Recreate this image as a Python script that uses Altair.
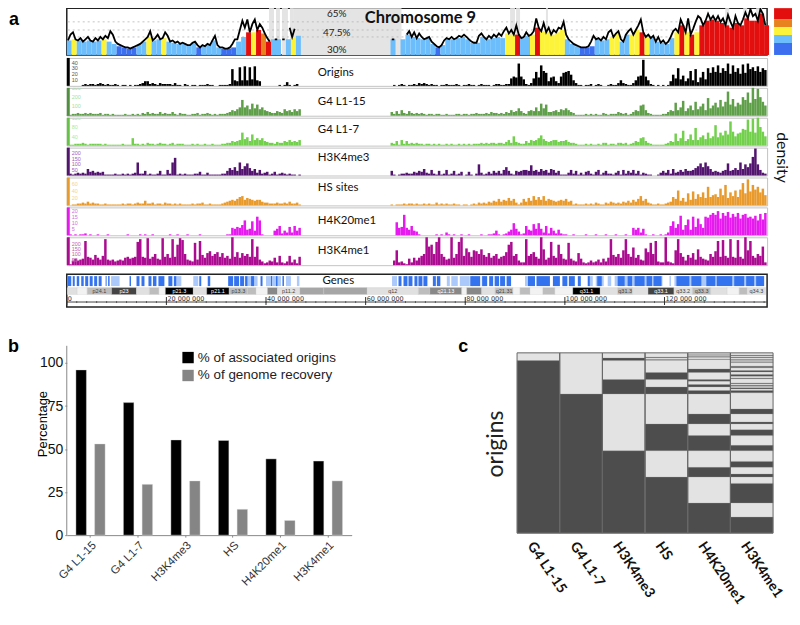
import altair as alt
import pandas as pd

# ---------- panel a: chromosome position in Mb, tracks in half-Mb bins ----------
gc_left = [41,45,39,38,41,40,41,46,38,36,34,33,33,34,36,39,46,41,40,46,39,38,37,37,35,38,33,36,35,41,36,33,32,33,38,42,52,46,55,50,53,41,40,None,40,46,43]
gc_right = [40,None,40,44,43,44,41,42,38,34,39,40,41,42,43,42,38,37,43,42,41,42,41,45,48,52,42,44,45,56,48,46,45,47,48,43,38,36,34,33,34,41,39,40,46,45,39,44,47,48,55,45,41,42,38,37,41,48,56,46,58,46,53,58,57,56,54,59,52,57,53,61,56,65,66,54]
gc_fine_left = [39,44,46,40,39,41,38,40,42,39,38,41,39,42,40,43,41,47,44,38,
                36,35,34,33,33,32,33,34,35,36,38,40,42,47,39,41,44,40,41,46,
                43,38,39,37,38,36,37,36,35,35,37,38,35,33,35,34,36,35,39,43,
                35,33,33,32,32,33,36,40,40,48,56,50,57,46,53,57,48,53,50,45,
                41,38,None,40,40,None,40,40,None,50,42,49,None,None]
gc_fine_right = [40,40,None,None,None,None,44,47,42,46,
                 41,45,42,40,41,42,38,36,34,33,35,39,41,40,42,40,41,43,42,44,
                 42,40,38,37,37,43,45,42,40,43,41,44,42,45,43,47,50,45,48,44,
                 52,44,41,42,46,43,44,47,58,50,47,54,46,50,44,48,46,50,49,55,
                 44,40,38,36,35,34,33,33,33,34,38,43,40,41,39,42,40,46,48,42,
                 45,47,40,38,44,47,49,44,48,52,57,46,42,44,41,43,38,42,37,39,
                 36,38,42,47,49,46,57,52,46,58,44,49,55,60,58,52,56,62,57,60,
                 56,60,55,58,52,61,55,50,60,54,52,57,63,58,66,60,62,56,66,62,52]
gc_classes = [35, 44.5, 49, 52]
gc_colors = ["#3c6ff0", "#6cbdfb", "#fdf43a", "#e8821e", "#e30f0f"]
gc_grid = [42, 48, 55]
gc_labels = ["65%", "47.5%", "30%"]
gc_label_pos = [61.5, 45, 31]
gap_starts = [40.6,42,43.2,44.8,45.6,89,90.2,96.2,132.2,135.8,138.4]
gap_ends = [41.6,42.8,44.4,45.6,67.2,90,91,96.6,133,136.6,139.6]

tracks = [
 dict(name="Origins", color="#000000", dark="#000000", tick="#555555", unit=1.6, ticks=[40,30,20,10], label_y=15,
  left=[0,0,0,0,0,0,1,2,1,2,2,1,2,3,2,1,2,1,1,2,
        1,0,1,1,0,1,0,1,1,2,3,5,5,2,3,2,1,3,2,2,
        2,2,1,3,1,1,0,2,1,0,1,1,0,1,1,1,2,1,1,0,
        0,1,1,1,1,2,18,6,5,20,6,21,6,20,7,21,6,5,0,0,
        0,0,0,0,0,1,0,1,4,1,0,1,2,0],
  right=[0,1,0,1,2,1,0,1,1,2,
         1,3,2,3,2,1,2,1,1,0,1,1,2,1,1,1,2,1,0,1,
         1,2,1,1,0,1,2,1,1,1,0,1,2,2,1,1,2,2,8,10,
         9,24,10,7,2,1,3,8,15,9,22,16,14,5,9,10,5,3,10,14,
         15,16,12,6,3,1,1,0,1,1,2,0,1,2,1,0,0,1,2,1,
         1,3,6,3,2,1,1,3,6,10,11,28,10,6,2,1,0,1,0,1,
         0,1,5,12,8,19,7,11,5,8,16,6,18,4,9,15,7,19,14,20,
         15,22,14,19,16,24,13,22,15,19,13,23,14,24,18,20,16,21,15,19,17]),
 dict(name="G4 L1-15", color="#5f9f4a", dark="#4f8f3e", tick="#9fe39f", unit=10, ticks=[300,200,100], label_y=14,
  left=[1,1,2,2,3,2,2,3,2,3,2,2,2,3,1,2,2,1,2,1,
        1,1,1,2,1,1,2,1,2,1,3,2,4,2,3,2,2,4,2,3,
        2,2,4,2,1,3,2,2,1,1,2,2,3,1,2,2,3,2,1,2,
        1,2,2,2,3,4,6,5,7,9,17,9,11,7,13,8,12,7,9,6,
        5,4,3,3,5,4,3,7,5,6,4,7,5,7],
  right=[4,2,5,2,6,3,2,5,3,2,
         3,2,3,2,1,2,2,1,2,2,1,1,2,1,1,1,2,2,1,2,
         2,1,2,2,3,2,2,2,3,2,4,3,3,2,3,2,4,3,6,4,
         5,8,5,3,2,5,6,5,9,5,13,8,12,4,4,5,6,4,7,6,
         8,6,4,3,1,1,1,1,2,1,2,1,2,1,1,3,2,1,2,2,
         2,4,3,2,3,1,2,4,6,5,11,12,6,3,2,1,1,1,1,2,
         2,4,6,5,14,6,9,16,5,8,11,6,15,7,10,13,6,19,8,11,
         14,9,17,10,15,26,12,18,10,14,12,20,17,25,14,30,18,29,20,15,11]),
 dict(name="G4 L1-7", color="#72d04d", dark="#66c244", tick="#a8eba0", unit=4.1, ticks=[120,80,40], label_y=12,
  left=[0,1,1,2,2,2,3,2,1,2,2,2,2,2,1,2,1,1,1,1,
        1,1,2,1,1,1,8,2,2,1,2,1,3,2,2,1,2,3,2,2,
        1,2,3,1,2,2,2,1,1,1,2,1,2,1,1,2,1,1,2,1,
        1,1,2,2,3,3,5,4,5,6,14,7,9,5,12,6,8,6,8,5,
        4,3,3,2,4,3,3,5,4,6,4,5,4,6],
  right=[3,2,5,1,6,2,5,2,3,2,
         3,2,2,1,2,2,1,2,1,2,1,1,2,1,2,1,1,2,1,2,
         1,2,1,2,2,2,3,2,3,2,3,3,2,3,3,2,4,6,3,10,
         4,3,2,2,5,3,6,5,6,8,11,7,5,4,5,6,6,4,5,5,
         6,4,3,3,2,1,1,1,2,1,2,1,1,2,1,3,3,1,2,2,
         1,3,3,2,3,1,2,3,5,4,8,9,5,3,2,1,1,1,1,1,
         2,3,5,4,13,5,8,16,5,7,12,6,19,6,9,11,7,14,8,10,
         22,9,14,11,16,12,26,15,10,13,14,18,17,28,15,29,14,30,20,15,10]),
 dict(name="H3K4me3", color="#52146e", dark="#52146e", tick="#a060c0", unit=8.3, ticks=[200,150,100,50], label_y=10,
  left=[0,2,1,2,3,2,3,2,7,4,5,3,4,3,4,1,1,1,1,2,
        1,1,2,1,2,1,2,3,14,2,2,5,1,2,1,1,2,5,1,1,
        6,2,14,19,1,2,1,2,1,1,1,2,2,4,1,1,3,1,1,1,
        1,1,2,2,5,8,6,9,5,14,7,10,13,8,5,7,3,6,2,3,
        4,1,2,4,1,2,3,2,1,2,1,1,0,1],
  right=[5,1,0,1,2,2,3,2,2,4,
         3,5,4,7,3,2,6,2,1,5,1,2,6,1,2,5,1,2,4,0,
         1,4,1,0,2,12,3,1,2,4,2,5,3,5,2,6,9,5,2,1,
         5,4,5,6,6,5,11,5,6,4,7,5,6,3,7,6,3,5,1,1,
         1,3,6,2,5,1,3,1,4,5,2,1,4,6,1,3,5,2,2,1,
         3,5,1,6,2,5,3,6,2,5,1,3,2,1,1,0,0,1,3,5,
         3,6,2,7,3,4,6,4,7,5,5,6,8,10,13,9,14,10,7,4,
         5,4,3,5,6,13,5,6,8,6,14,7,12,9,13,20,29,12,6,3,2]),
 dict(name="HS sites", color="#e99a2c", dark="#e99a2c", tick="#f5d58a", unit=2.6, ticks=[60,40,20], label_y=11,
  left=[0,0,1,1,2,2,3,2,4,2,3,2,2,1,1,2,1,1,1,1,
        1,1,2,1,2,2,1,2,3,2,2,5,2,2,3,1,2,2,1,3,
        2,2,1,2,1,2,1,1,1,1,2,1,2,2,3,1,1,2,1,1,
        1,1,2,3,4,5,6,5,7,9,10,6,8,7,6,5,6,6,4,3,
        3,2,2,2,3,2,2,3,2,4,2,2,3,1],
  right=[1,0,1,1,1,2,1,2,2,1,
         2,1,1,2,1,2,1,1,3,1,2,1,2,1,1,2,1,1,0,1,
         1,0,1,2,1,3,2,3,2,4,3,5,4,7,4,6,5,8,5,7,
         3,1,3,7,4,8,5,10,6,9,6,10,5,7,6,5,4,5,6,5,
         7,4,5,1,2,1,1,1,2,1,2,1,3,2,1,1,3,2,4,3,
         2,3,2,4,3,5,3,6,4,7,10,5,7,3,2,1,1,2,1,1,
         2,3,4,9,7,16,5,8,4,13,6,15,7,12,9,14,8,20,9,11,
         12,9,18,11,22,8,14,10,16,9,17,24,13,28,15,22,17,20,14,18,11]),
 dict(name="H4K20me1", color="#e619ee", dark="#e619ee", tick="#d070e0", unit=0.77, ticks=[20,15,10,5], label_y=14,
  left=[0,1,0,1,0,1,1,2,0,1,0,0,1,0,0,0,1,0,0,0,
        0,0,0,0,1,0,0,0,0,1,0,1,0,0,1,0,0,0,0,0,
        0,1,0,0,1,0,0,0,1,0,0,0,0,1,0,0,0,0,0,0,
        0,0,0,0,1,1,8,7,9,8,11,16,6,7,15,5,20,16,1,0,
        0,0,0,5,7,10,2,5,3,9,3,10,5,8],
  right=[0,0,14,8,9,22,8,6,10,5,
         4,1,0,0,0,0,0,0,1,0,1,0,3,1,0,1,0,0,1,0,
         0,1,0,0,0,0,1,0,0,1,1,2,5,1,0,1,2,4,6,13,
         7,4,1,2,10,6,5,12,7,13,7,3,10,2,8,5,2,6,2,1,
         1,0,0,1,0,0,0,0,1,0,0,0,1,0,0,0,1,0,0,0,
         1,0,0,0,1,0,0,8,6,8,3,7,1,0,0,1,0,0,1,0,
         1,3,10,15,8,12,21,6,11,17,6,20,9,18,12,8,20,19,22,24,
         22,26,18,24,21,25,19,23,20,24,18,22,23,19,20,18,21,16,23,17,24]),
 dict(name="H3K4me1", color="#ab0b90", dark="#ab0b90", tick="#c060b0", unit=8.6, ticks=[200,150,100,50], label_y=14,
  left=[0,1,5,7,5,6,7,26,9,8,6,11,8,6,10,28,6,5,6,4,
        5,6,5,8,9,7,8,9,25,28,9,8,29,7,9,12,7,6,29,9,
        12,8,28,9,22,29,27,12,6,5,4,24,6,26,11,8,13,15,10,12,
        14,9,13,8,10,7,30,9,14,8,13,10,12,9,28,9,20,6,4,2,
        3,5,4,8,3,10,3,2,4,10,3,6,2,9],
  right=[0,5,16,3,4,2,1,7,3,8,
         5,8,10,12,30,20,22,12,25,30,12,9,6,7,30,8,12,25,30,10,
         18,14,9,16,15,12,17,11,9,13,8,10,12,7,9,10,14,22,25,10,
         12,5,3,3,28,10,12,14,9,7,30,17,6,8,25,10,8,22,12,7,
         6,24,7,5,4,13,7,3,2,3,5,3,4,6,3,7,4,8,28,11,
         9,12,8,16,28,12,9,19,8,11,6,5,18,14,24,12,26,4,3,3,
         30,4,3,2,16,28,13,9,5,11,8,13,6,17,9,7,6,5,12,9,
         15,26,9,27,10,8,28,9,8,27,9,7,30,16,26,10,8,12,10,20,3]),
]

gene_light = [(8.9,10.6),(22,23),(25.4,26.4),(36.3,38.3),(40,43),(44,45),(46.2,46.7),(65.3,66.3),(76.3,76.9),(77.2,78.5),(78.9,80.9),(81.3,81.6),(83.3,84),(92,92.6),(104.6,105.6),(106.2,107.8),(108.6,109.3),(110,119.6),(121,121.3),(122,140)]
gene_dark = [(0.2,0.9),(1.2,1.6),(2,2.5),(2.9,3.4),(3.7,4.3),(4.6,5.2),(5.5,6.1),(6.4,7),(7.8,8),(8.3,8.6),(12.6,12.9),(14,14.6),(15,15.6),(16.4,17),(17.3,18),(18.4,19.6),(20.4,21.2),(21.5,22),(26.6,27),(28.3,28.8),(32.4,33.4),(33.6,34.6),(34.8,35.6),(35.8,36.3),(37,37.6),(38.9,39.3),(41,41.2),(42,42.3),(43.3,43.6),
             (66.6,67.2),(67.6,68.4),(68.6,69.4),(69.8,70.4),(70.6,71.4),(71.6,72.4),(73.5,74.1),(74.3,75),(81,83),(83.4,84.4),(84.8,85.6),(85.9,86.8),(87,88),(88.3,89.2),(92.6,94),(94.3,97),(97.6,99),(99.5,100.5),(100.8,102),(102.6,103.2),(104.6,105),(106.5,107.4),(110.6,112),(112.6,113.5),(114,116),(116.4,117.5),(117.8,119.4),(122.4,125),(125.4,127.4),(128.4,130.2),(130.5,133.6),(134,136),(136.4,138),(138.4,140)]

band_edges = [0.1,2.1,4.1,9,14,16.6,18.5,19.8,25.4,28.1,32.6,36.3,38,40.3,42.3,46.8,51.6,60.3,70.6,72.9,79.3,80.3,83.3,86,89.6,91,93,95.6,98,101.6,107.1,110.6,113.6,116.7,121.9,125.6,129.3,132.6,135,136.6,140.3]
band_stain = [25,0,50,90,25,50,0,100,25,100,50,50,0,75,25,60,60,25,50,75,0,75,25,50,0,50,0,50,0,100,25,50,25,90,25,50,25,0,50,25]
band_names = ["","","p24.1","p23","","","","p21.3","","p21.1","p13.3","","","","p11.2","","","q12","","q21.13","","","","q21.31","","","","","","q31.1","","q31.3","","q33.1","q33.2","q33.3","","","","q34.3"]
ruler_major = [0,20,40,60,80,100,120]
ruler_labels = ["0","20 000 000","40 000 000","60 000 000","80 000 000","100 000 000","120 000 000"]
ruler_minor = [m for m in range(0,141,2)]

# ---------- panel b ----------
marks_b = ["G4 L1-15","G4 L1-7","H3K4me3","HS","H4K20me1","H3K4me1"]
origins_pct = [96,77,55.3,55,44.3,43]
genome_pct = [53,29.5,31.5,15,8.5,31.5]
series_b = ["% of associated origins","% of genome recovery"]

# ---------- panel c: dark ranges, percent of origins from the top ----------
marks_c = ["G4  L1-15","G4 L1-7","H3K4me3","HS","H4K20me1","H3K4me1"]
dark_c = [
 [(4.3,100)],
 [(22.8,100)],
 [(2.8,4.3),(14.8,22.8),(54.3,100)],
 [(2.4,2.8),(3.7,4.1),(10.9,14.8),(18.9,22.8),(39.4,54.3),(68.9,100)],
 [(1.0,1.3),(2.0,2.4),(3.4,3.7),(8.9,10.9),(14.8,15.7),(17.6,18.9),(20.9,22.8),(33.9,39.4),(45.9,54.3),(63.5,68.9),(83.3,100)],
 [(1.3,1.7),(2.4,2.8),(3.7,4.1),(5,5.4),(7.4,8.3),(9.8,10.6),(12,13),(13.9,14.4),(16.7,17.2),(18,18.5),(19.4,20),(20.9,22.2),(31.1,33.9),(38.3,39.4),(42.6,45.9),(51.3,54.3),(60.2,63.5),(67.2,68.9),(72.4,83.3),(91.1,100)],
]

PLOT_W = 703
TRACK_H = 28
xs = alt.Scale(domain=[0,140.6], nice=False, zero=False)
FONT = "Lato"
one = pd.DataFrame({"k":[0]})

def ax(field):
    return alt.X(field, scale=xs, axis=None, title=None)

def bin_floor(coarse, fine, start):
    out = []
    for i, v in enumerate(coarse):
        pair = [f for f in fine[2*i:2*i+2] if f is not None]
        if v is not None:
            out.append(dict(mb=start+i, end=start+i+1, gc=v, top=min([v]+pair), base=26.5))
    return out

# GC track
gc_df = pd.DataFrame(bin_floor(gc_left, gc_fine_left, 0) + bin_floor(gc_right, gc_fine_right, 65))
gc_line = pd.DataFrame([dict(mid=i*0.5+0.25, gc=v) for i,v in enumerate(gc_fine_left)] +
                       [dict(mid=47.25, gc=None)] +
                       [dict(mid=65.25+i*0.5, gc=v) for i,v in enumerate(gc_fine_right)])
ys_gc = alt.Scale(domain=[26.5,66.8], nice=False, zero=False)
ggap = alt.Chart(pd.DataFrame({"s":gap_starts,"e":gap_ends})).mark_rect(color="#e4e4e4").encode(x=ax("s:Q"), x2="e:Q")
ggrid = alt.Chart(pd.DataFrame({"g":gc_grid})).mark_rule(color="#b5b5b5", strokeDash=[2,3], strokeWidth=0.8).encode(
    y=alt.Y("g:Q", scale=ys_gc, axis=None))
gbars = alt.Chart(gc_df).mark_rect().encode(
    x=ax("mb:Q"), x2="end:Q", y=alt.Y("top:Q", scale=ys_gc, axis=None), y2="base:Q",
    color=alt.Color("gc:Q", scale=alt.Scale(type="threshold", domain=gc_classes, range=gc_colors), legend=None))
gline = alt.Chart(gc_line).mark_line(color="black", strokeWidth=1.8).encode(
    x=ax("mid:Q"), y=alt.Y("gc:Q", scale=ys_gc, axis=None))
glabels = alt.Chart(pd.DataFrame({"t":gc_labels,"g":gc_label_pos,"mb":[54.2,54.2,54.2]})).mark_text(font=FONT, fontSize=10, color="#222", clip=True).encode(
    x=ax("mb:Q"), y=alt.Y("g:Q", scale=ys_gc, axis=None), text="t:N")
gtitle = alt.Chart(pd.DataFrame({"t":["Chromosome 9"],"mb":[71]})).mark_text(font=FONT, fontSize=16.5, fontWeight="bold", color="#111", clip=True).encode(
    x=ax("mb:Q"), y=alt.value(10), text="t:N")
gletter = alt.Chart(one).mark_text(text="a", font="Liberation Sans", fontSize=18, fontWeight="bold", align="left", baseline="top", color="black").encode(
    x=alt.value(-58), y=alt.value(3))
gc_panel = alt.layer(ggap, ggrid, gbars, gline, glabels, gtitle, gletter).properties(
    width=PLOT_W, height=47, view=alt.ViewBackground(stroke="#222", strokeWidth=1.5))

def track(t):
    rows = [dict(s=i*0.5, e=i*0.5+0.5, v=x*t["unit"], b=0) for i,x in enumerate(t["left"]) if x>0] + \
           [dict(s=65+i*0.5, e=65.5+i*0.5, v=x*t["unit"], b=0) for i,x in enumerate(t["right"]) if x>0]
    ys = alt.Scale(domain=[0,30*t["unit"]], nice=False)
    bars = alt.Chart(pd.DataFrame(rows)).mark_rect(color=t["color"]).encode(
        x=ax("s:Q"), x2="e:Q", y=alt.Y("v:Q", scale=ys, axis=None), y2="b:Q")
    side = alt.Chart(one).mark_rect(color=t["dark"]).encode(
        x=alt.value(0), x2=alt.value(3), y=alt.value(0), y2=alt.value(TRACK_H))
    tick = alt.Chart(pd.DataFrame({"v":t["ticks"]})).mark_text(fontSize=5.5, align="left", color=t["tick"], font="Liberation Sans", clip=True).encode(
        x=alt.value(5), y=alt.Y("v:Q", scale=ys, axis=None), text="v:Q")
    name = alt.Chart(pd.DataFrame({"n":[t["name"]],"mb":[50.4]})).mark_text(font=FONT, fontSize=11.5, align="left", color="#111").encode(
        x=ax("mb:Q"), y=alt.value(t["label_y"]), text="n:N")
    return alt.layer(bars, side, tick, name).properties(
        width=PLOT_W, height=TRACK_H, view=alt.ViewBackground(stroke="#c4c4c4", strokeWidth=1))

track_panels = alt.vconcat(*[track(t) for t in tracks], spacing=0)

# Genes / ideogram / ruler
gl = alt.Chart(pd.DataFrame(gene_light, columns=["s","e"])).mark_rect(color="#abc9fb").encode(
    x=ax("s:Q"), x2="e:Q", y=alt.value(2), y2=alt.value(12))
gd = alt.Chart(pd.DataFrame(gene_dark, columns=["s","e"])).mark_rect(color="#3473ef").encode(
    x=ax("s:Q"), x2="e:Q", y=alt.value(2), y2=alt.value(12))
gname = alt.Chart(pd.DataFrame({"t":["Genes"],"mb":[54.5]})).mark_text(font=FONT, fontSize=11.5, color="#111").encode(
    x=ax("mb:Q"), y=alt.value(7), text="t:N")
band_df = pd.DataFrame({"s":band_edges[:-1],"e":band_edges[1:],"stain":band_stain,"n":band_names})
band_df["mid"] = (band_df.s+band_df.e)/2
bnd = alt.Chart(band_df).mark_rect(stroke="#cccccc", strokeWidth=0.3).encode(
    x=ax("s:Q"), x2="e:Q", y=alt.value(13.5), y2=alt.value(20.5),
    color=alt.Color("stain:O", legend=None, scale=alt.Scale(domain=[0,25,50,60,75,90,100],
        range=["#f2f2f2","#e0e0e0","#bdbdbd","#a6a6a6","#888888","#444444","#000000"])))
bnd_t = alt.Chart(band_df[band_df.n!=""]).mark_text(fontSize=5.5, font="Liberation Sans").encode(
    x=ax("mid:Q"), y=alt.value(17), text="n:N",
    color=alt.condition(alt.datum.stain>=75, alt.value("white"), alt.value("#444444")))
rl = alt.Chart(pd.DataFrame({"a":[0],"b":[140.6]})).mark_rule(color="#444", strokeWidth=1).encode(
    x=ax("a:Q"), x2="b:Q", y=alt.value(28))
rmin = alt.Chart(pd.DataFrame({"m":ruler_minor})).mark_rule(color="#444", strokeWidth=0.8).encode(
    x=ax("m:Q"), y=alt.value(27), y2=alt.value(29))
rmaj = alt.Chart(pd.DataFrame({"m":ruler_major})).mark_rule(color="#333", strokeWidth=1).encode(
    x=ax("m:Q"), y=alt.value(23), y2=alt.value(31))
rtxt = alt.Chart(pd.DataFrame({"m":ruler_major,"t":ruler_labels})).mark_text(fontSize=6.5, align="left", dx=1, font="DejaVu Sans", color="#333").encode(
    x=ax("m:Q"), y=alt.value(24.5), text="t:N")
genes_panel = alt.layer(gl, gd, gname, bnd, bnd_t, rl, rmin, rmaj, rtxt).properties(
    width=PLOT_W, height=33, view=alt.ViewBackground(stroke="#222", strokeWidth=1.5))

left_col = alt.vconcat(alt.vconcat(gc_panel, track_panels, spacing=1), genes_panel, spacing=7)

# swatch + density
sw_df = pd.DataFrame({"cls":["red","orange","yellow","sky","blue"],"a":[0,11,19,27,35],"b":[11,19,27,35,47]})
swatch = alt.Chart(sw_df).mark_rect().encode(
    y=alt.Y("a:Q", scale=alt.Scale(domain=[0,47], reverse=True, nice=False), axis=None), y2="b:Q",
    color=alt.Color("cls:N", legend=None, scale=alt.Scale(domain=["red","orange","yellow","sky","blue"], range=gc_colors[::-1]))
).properties(width=18, height=47, view=alt.ViewBackground(stroke=None))
density = alt.Chart(one).mark_text(text="density", font=FONT, fontSize=16, angle=90, color="#111").encode(
    x=alt.value(8), y=alt.value(101)).properties(width=18, height=200, view=alt.ViewBackground(stroke=None))
right_col = alt.vconcat(swatch, density, spacing=2)
row_a = alt.hconcat(left_col, right_col, spacing=4)

# panel b: the plot area starts at the panel letter so that no mark overhangs the row
b_df = pd.DataFrame({"mark":marks_b*2, "series":[series_b[0]]*6+[series_b[1]]*6, "pct":origins_pct+genome_pct})
ys_b = alt.Scale(domain=[0,114.6], nice=False)
axis_b = alt.Axis(values=[0,25,50,75,100], grid=False, title="Percentage", titleFont="Liberation Sans", titleFontSize=13,
                  titleFontWeight="normal", titleX=-17, titleY=86, labelFontSize=14, labelFont="Liberation Sans", labelColor="#111",
                  domain=False, tickSize=2, tickColor="#888", labelPadding=2)
bar_b = alt.Chart(b_df).mark_bar(stroke="#dddddd", strokeWidth=0.4).encode(
    x=alt.X("mark:N", sort=marks_b, title=None, scale=alt.Scale(paddingInner=0, paddingOuter=0),
            axis=alt.Axis(labelAngle=315, labelAlign="right", labelFontSize=11.5, labelColor="#333", labelFont="Liberation Sans",
                          domainColor="#888", tickSize=2, tickColor="#888", labelPadding=2)),
    xOffset=alt.XOffset("series:N", sort=series_b, scale=alt.Scale(paddingInner=0.44, paddingOuter=0.489)),
    y=alt.Y("pct:Q", scale=ys_b, axis=axis_b),
    color=alt.Color("series:N", sort=series_b, scale=alt.Scale(domain=series_b, range=["#000000","#858585"]),
                    legend=alt.Legend(orient="none", legendX=115, legendY=13, title=None, symbolType="square", symbolSize=130,
                                      symbolStrokeWidth=0, labelFontSize=13.5, labelFont="Liberation Sans", labelColor="#222", rowPadding=3, labelOffset=3))
)
y_line = alt.Chart(pd.DataFrame({"a":[0],"b":[110]})).mark_rule(color="#888").encode(
    x=alt.value(0), y=alt.Y("a:Q", scale=ys_b, axis=axis_b), y2="b:Q")
letter_b = alt.Chart(one).mark_text(text="b", font="Liberation Sans", fontSize=18, fontWeight="bold", align="left", baseline="top", color="black").encode(
    x=alt.value(-59), y=alt.value(0))
panel_b = alt.layer(bar_b, y_line, letter_b).properties(width=286, height=198, view=alt.ViewBackground(stroke=None))

# panel c
ys_c = alt.Scale(domain=[-8.3,100], nice=False, zero=False, reverse=True)
xc = alt.X("mark:N", sort=marks_c, title=None, scale=alt.Scale(paddingInner=0, paddingOuter=0),
           axis=alt.Axis(labelAngle=56, labelAlign="left", labelBaseline="middle", labelFont=FONT, labelFontSize=14, labelFontWeight="bold",
                         labelColor="#111", domain=False, ticks=False, labelPadding=10, labelLimit=0, labelOffset=-8))
yc = alt.Y("a:Q", scale=ys_c, axis=alt.Axis(title="origins", titleFont=FONT, titleFontSize=23, titleFontWeight="normal", titleColor="#222",
           labels=False, ticks=False, domain=False, grid=False, titleX=-10, titleY=106))
c_base = pd.DataFrame({"mark":marks_c, "a":[0]*6, "b":[100]*6})
c_rows = [dict(mark=m, a=s, b=e) for m, segs in zip(marks_c, dark_c) for s, e in segs]
c_light = alt.Chart(c_base).mark_rect(color="#e3e3e3").encode(x=xc, y=yc, y2="b:Q")
c_dark = alt.Chart(pd.DataFrame(c_rows)).mark_rect(color="#4d4d4d", stroke="#a0a0a0", strokeWidth=0.3).encode(x=xc, y=yc, y2="b:Q")
c_frame = alt.Chart(c_base).mark_rect(fillOpacity=0, stroke="#666666", strokeWidth=1).encode(x=xc, y=yc, y2="b:Q")
letter_c = alt.Chart(one).mark_text(text="c", font="Liberation Sans", fontSize=18, fontWeight="bold", align="left", baseline="top", color="black").encode(
    x=alt.value(-59), y=alt.value(0))
panel_c = alt.layer(c_light, c_dark, c_frame, letter_c).properties(width=257, height=196, view=alt.ViewBackground(stroke=None))

row_b = alt.hconcat(panel_b, panel_c, spacing=107).resolve_scale(color="independent", x="independent", y="independent")

chart = alt.vconcat(row_a, row_b, spacing=30).properties(padding={"left":0,"top":-5,"right":0,"bottom":0}).resolve_scale(color="independent").configure_view(stroke=None)
chart.save("out.html", embed_options={"renderer": "svg", "actions": False})
